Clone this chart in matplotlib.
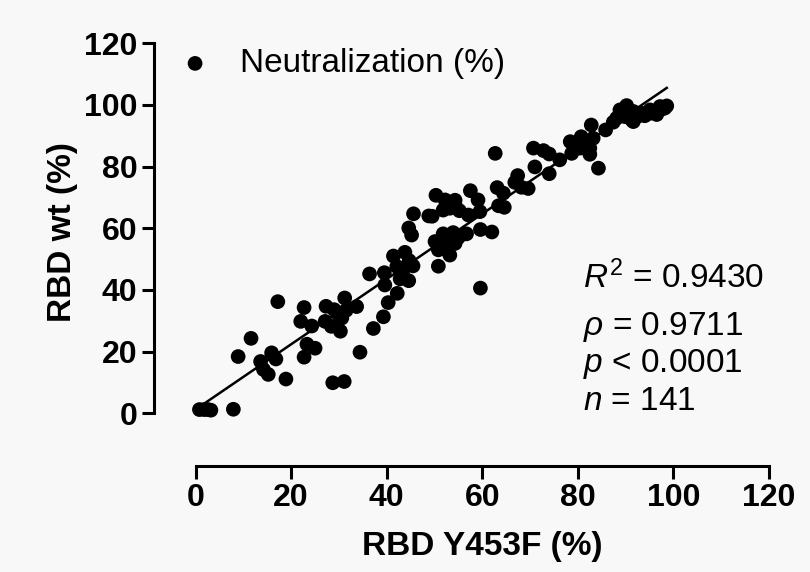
import numpy as np
import matplotlib
matplotlib.use("Agg")
import matplotlib.pyplot as plt

plt.rcParams['font.family'] = ['Liberation Sans', 'DejaVu Sans']
plt.rcParams['mathtext.fontset'] = 'custom'
plt.rcParams['mathtext.rm'] = 'Liberation Sans'
plt.rcParams['mathtext.it'] = 'Liberation Sans:italic'

# Neutralization (%) per serum: RBD Y453F (x) vs RBD wt (y)
y453f = [0.8, 1.8, 2.6, 3.2, 7.9, 8.9, 11.6, 17.2,
         13.6, 14.2, 15.2, 15.9, 16.8, 18.9,
         22.0, 22.7, 24.3, 23.3, 25.0, 22.7,
         27.3, 29.0, 31.2, 33.7, 30.6, 27.1, 28.4, 30.3, 31.5, 29.9,
         28.7, 31.1, 34.4, 37.2,
         36.4, 39.5, 39.6, 40.3, 39.3, 41.4, 43.8, 44.7, 42.1, 43.3,
         42.8, 44.6, 42.2, 45.6, 48.8, 44.6, 45.2, 45.5,
         50.3, 52.2, 54.3, 51.8, 53.2, 55.2, 57.1, 59.5, 57.5, 59.1,
         49.5, 54.3, 52.5,
         50.1, 51.8, 53.9, 52.9, 54.3, 50.8, 53.2, 56.7, 59.6, 62.0,
         51.2, 55.0, 50.8, 59.6,
         62.7, 63.1, 64.4, 63.4, 64.6, 67.4, 66.8, 68.2, 69.6, 70.7,
         72.8, 74.0, 71.0, 74.0, 76.2, 78.4, 79.4, 80.4, 78.7, 80.7,
         83.2, 82.5, 82.5, 82.8, 84.3, 85.8, 81.4,
         88.8, 90.2, 88.1, 89.9, 91.3, 87.4, 91.6, 91.6, 93.4, 95.1,
         95.1, 97.2, 98.2, 98.6, 96.5, 89.5, 94.0, 97.5, 92.5]
rbd_wt = [1.2, 1.2, 1.2, 1.0, 1.3, 18.4, 24.3, 36.2,
          16.8, 14.2, 12.6, 19.6, 17.6, 11.1,
          29.8, 34.3, 28.3, 22.4, 21.1, 18.2,
          34.7, 33.6, 37.4, 34.6, 30.9, 29.8, 28.2, 26.6, 33.4, 32.0,
          9.9, 10.3, 19.8, 27.5,
          45.2, 45.6, 41.6, 35.9, 31.3, 51.0, 52.2, 49.5, 47.6, 45.3,
          43.6, 43.0, 38.9, 64.7, 64.0, 60.1, 57.8, 47.8,
          70.7, 69.2, 69.1, 65.9, 66.5, 65.7, 64.3, 65.4, 72.2, 69.2,
          63.9, 67.6, 67.8,
          55.7, 58.2, 58.6, 54.6, 55.1, 53.0, 51.3, 58.2, 59.6, 58.8,
          54.0, 57.0, 47.7, 40.6,
          84.3, 73.2, 71.4, 67.3, 66.8, 77.1, 74.9, 73.3, 72.9, 86.0,
          85.2, 84.1, 79.9, 77.7, 82.2, 88.1, 86.5, 86.0, 84.3, 89.7,
          89.2, 86.0, 84.0, 93.5, 79.5, 91.9, 87.8,
          98.4, 99.8, 95.7, 96.2, 95.1, 94.4, 97.9, 94.6, 97.3, 97.3,
          98.4, 99.5, 99.0, 99.7, 96.9, 97.0, 96.5, 98.6, 96.3]

ticks = [0, 20, 40, 60, 80, 100, 120]
stats = [r'$R^2$ = 0.9430', r'$\rho$ = 0.9711', r'$p$ < 0.0001', r'$n$ = 141']
stats_y = [40.5, 25.5, 13.5, 1.0]

x = np.array(y453f)
y = np.array(rbd_wt)
slope, intercept = np.polyfit(x, y, 1)
xfit = np.array([x.min(), x.max()])

fig = plt.figure(figsize=(8.1, 5.72), dpi=100, facecolor='#f8f8f8')
ax = fig.add_axes([0.2415, 0.2775, 0.7079, 0.6468])
ax.set_facecolor('#f8f8f8')

ax.scatter(x, y, s=112, color='black', edgecolors='none', clip_on=False,
           zorder=3, label='Neutralization (%)')
ax.plot(xfit, slope * xfit + intercept, color='black', lw=1.8, zorder=4)

ax.set_xlim(0, 120)
ax.set_ylim(0, 120)
ax.set_xticks(ticks)
ax.set_yticks(ticks)

for side in ['top', 'right']:
    ax.spines[side].set_visible(False)
ax.spines['left'].set_position(('outward', 30))
ax.spines['bottom'].set_position(('outward', 38))
for side in ['left', 'bottom']:
    ax.spines[side].set_linewidth(2.2)
ax.tick_params(width=2.2, length=9, labelsize=23, pad=3)
for lab in ax.get_xticklabels() + ax.get_yticklabels():
    lab.set_fontweight('bold')

ax.set_xlabel('RBD Y453F (%)', fontsize=24, fontweight='bold')
ax.set_ylabel('RBD wt (%)', fontsize=24, fontweight='bold')
ax.xaxis.set_label_coords(0.5, -0.36)
ax.xaxis.label.set_va('center')
ax.yaxis.set_label_coords(-0.232, 0.49)
ax.yaxis.label.set_va('center')

ax.legend(loc='center left', bbox_to_anchor=(-0.03, 0.945), frameon=False,
          fontsize=24, handlelength=1.0, handletextpad=0.85, borderpad=0,
          borderaxespad=0, markerscale=1.0)

for txt, ty in zip(stats, stats_y):
    ax.text(81.1, ty, txt, fontsize=24, va='baseline', ha='left')

fig.savefig('out.png', dpi=100, facecolor=fig.get_facecolor())
